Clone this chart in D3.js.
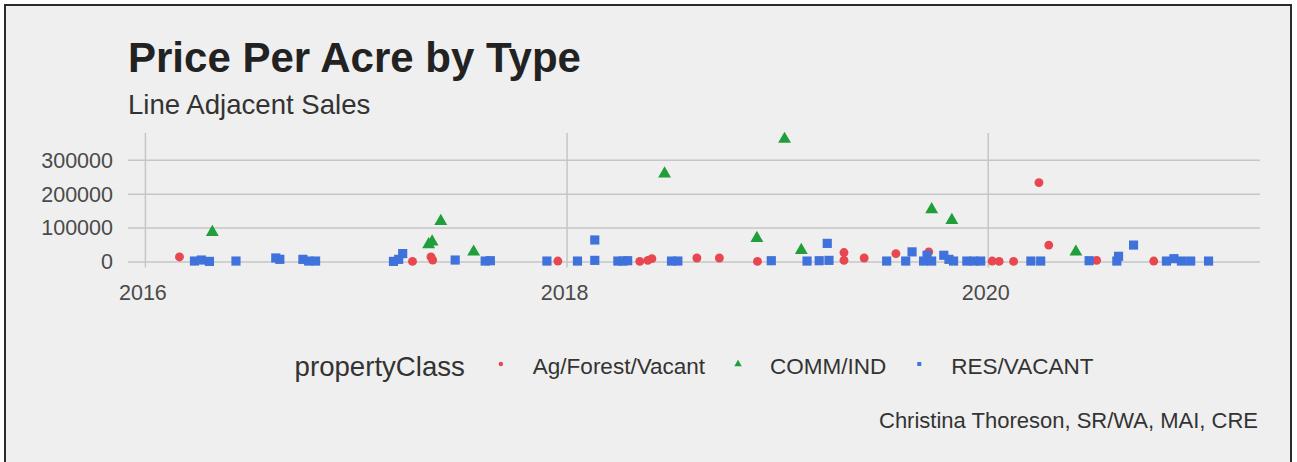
<!DOCTYPE html>
<html>
<head>
<meta charset="utf-8">
<title>Price Per Acre by Type</title>
<style>
  body { margin: 0; background: #fff; }
  text { font-family: "Liberation Sans", Arial, Helvetica, sans-serif; }
</style>
</head>
<body>
<svg width="1297" height="462"></svg>
<script src="https://cdnjs.cloudflare.com/ajax/libs/d3/7.8.5/d3.min.js"></script>
<script>

// categories + colours (ggplot hue palette, a bit darker like the print)
var categories = ["Ag/Forest/Vacant", "COMM/IND", "RES/VACANT"];
var colors = ["#e8474f", "#1f9e3a", "#3f72da"];
var shapes = [d3.symbolCircle, d3.symbolTriangle, d3.symbolSquare];

// [sale date, price per acre]
var agSales = [
  ["2016-02-29", 15000], ["2017-04-08", 2000], ["2017-05-10", 15000],
  ["2017-05-13", 6000], ["2017-12-16", 3000], ["2018-05-07", 2000],
  ["2018-05-21", 5000], ["2018-05-28", 10000], ["2018-08-14", 12000],
  ["2018-09-22", 12000], ["2018-11-27", 2000], ["2019-04-26", 28000],
  ["2019-04-26", 5000], ["2019-05-31", 12000], ["2019-07-25", 25000],
  ["2019-09-20", 30000], ["2020-01-08", 3000], ["2020-01-20", 2000],
  ["2020-02-14", 2000], ["2020-03-29", 234000], ["2020-04-15", 50000],
  ["2020-07-07", 5000], ["2020-10-14", 3000]
];

var commSales = [
  ["2016-04-26", 88000], ["2017-05-06", 52000], ["2017-05-12", 60000],
  ["2017-05-27", 120000], ["2017-07-23", 30000], ["2018-06-19", 260000],
  ["2018-11-26", 70000], ["2019-01-13", 362000], ["2019-02-11", 35000],
  ["2019-09-25", 155000], ["2019-10-30", 123000], ["2020-06-01", 30000]
];

var resSales = [
  ["2016-03-26", 3000], ["2016-04-07", 6000], ["2016-04-21", 2000],
  ["2016-06-06", 3000], ["2016-08-14", 12000], ["2016-08-21", 8000],
  ["2016-09-30", 8000], ["2016-10-10", 3000], ["2016-10-22", 3000],
  ["2017-03-06", 2000], ["2017-03-15", 8000], ["2017-03-22", 25000],
  ["2017-06-21", 6000], ["2017-08-12", 3000], ["2017-08-21", 4000],
  ["2017-11-27", 3000], ["2018-01-19", 3000], ["2018-02-18", 65000],
  ["2018-02-18", 5000], ["2018-03-30", 3000], ["2018-04-08", 3000],
  ["2018-04-16", 4000], ["2018-07-01", 3000], ["2018-07-12", 3000],
  ["2018-12-21", 4000], ["2019-02-21", 3000], ["2019-03-14", 4000],
  ["2019-03-28", 55000], ["2019-03-31", 5000], ["2019-07-09", 3000],
  ["2019-08-11", 3000], ["2019-08-22", 30000], ["2019-09-11", 3000],
  ["2019-09-17", 20000], ["2019-09-25", 3000], ["2019-10-16", 20000],
  ["2019-10-25", 8000], ["2019-11-02", 3000], ["2019-11-25", 3000],
  ["2019-12-07", 3000], ["2019-12-19", 3000], ["2020-03-15", 3000],
  ["2020-04-01", 3000], ["2020-06-24", 4000], ["2020-08-11", 3000],
  ["2020-08-14", 17000], ["2020-09-09", 50000], ["2020-11-05", 3000],
  ["2020-11-18", 10000], ["2020-12-01", 3000], ["2020-12-17", 3000],
  ["2021-01-17", 3000]
];

var yTicks = [0, 100000, 200000, 300000];
var xTickYears = [2016, 2018, 2020];

var parse = d3.timeParse("%Y-%m-%d");
var series = [agSales, commSales, resSales];
var points = [];
series.forEach(function(s, i) {
  s.forEach(function(d) {
    points.push({ date: parse(d[0]), value: d[1], cls: i });
  });
});

var svg = d3.select("svg");

// page background + frame
svg.append("rect").attr("x", 5).attr("y", 5).attr("width", 1286).attr("height", 460)
  .attr("fill", "#efefef").attr("stroke", "#2b2b2b").attr("stroke-width", 2);

var panel = { left: 128, right: 1260, top: 133, bottom: 267.5 };

// ggplot style 5% expansion on both axes
var xExt = d3.extent(points, function(d) { return d.date; });
var xPad = (xExt[1] - xExt[0]) * 0.05;
var x = d3.scaleTime()
  .domain([new Date(+xExt[0] - xPad), new Date(+xExt[1] + xPad)])
  .range([panel.left, panel.right]);

var yExt = d3.extent(points, function(d) { return d.value; });
var yPad = (yExt[1] - yExt[0]) * 0.05;
var y = d3.scaleLinear()
  .domain([yExt[0] - yPad, yExt[1] + yPad])
  .range([panel.bottom, panel.top]);

var xTicks = xTickYears.map(function(yr) { return new Date(yr, 0, 1); });

// grid
var grid = svg.append("g").attr("stroke", "#c6c6c6").attr("stroke-width", 1.5);
grid.selectAll("line.h").data(yTicks).enter().append("line")
  .attr("x1", panel.left).attr("x2", panel.right)
  .attr("y1", function(d) { return y(d); }).attr("y2", function(d) { return y(d); });
grid.selectAll("line.v").data(xTicks).enter().append("line")
  .attr("y1", panel.top).attr("y2", panel.bottom)
  .attr("x1", function(d) { return x(d); }).attr("x2", function(d) { return x(d); });

// axes (text only, like theme_fivethirtyeight)
var yAxis = svg.append("g")
  .attr("transform", "translate(" + panel.left + ",0)")
  .call(d3.axisLeft(y).tickValues(yTicks).tickFormat(d3.format("d")).tickSize(0).tickPadding(15));
var xAxis = svg.append("g")
  .attr("transform", "translate(0," + panel.bottom + ")")
  .call(d3.axisBottom(x).tickValues(xTicks).tickFormat(d3.timeFormat("%Y")).tickSize(0).tickPadding(17));
[yAxis, xAxis].forEach(function(a) {
  a.select(".domain").remove();
  a.selectAll("text").attr("font-size", 21.5).attr("fill", "#4a4a4a")
    .attr("font-family", "'Liberation Sans', Arial, sans-serif");
});
xAxis.selectAll(".tick text").attr("dx", -3);

// points
var sym = d3.symbol();
var symSize = [62, 72, 84];
svg.append("g").selectAll("path").data(points).enter().append("path")
  .attr("transform", function(d) { return "translate(" + x(d.date) + "," + y(d.value) + ")"; })
  .attr("d", function(d) { return sym.type(shapes[d.cls]).size(symSize[d.cls])(); })
  .attr("fill", function(d) { return colors[d.cls]; });

// titles
svg.append("text").attr("x", 128).attr("y", 72)
  .attr("font-size", 42).attr("font-weight", "bold").attr("fill", "#222")
  .text("Price Per Acre by Type");
svg.append("text").attr("x", 128).attr("y", 114)
  .attr("font-size", 27.6).attr("fill", "#333")
  .text("Line Adjacent Sales");

// legend, centred on the panel
var legend = svg.append("g");
var ly = 366;
var lt = legend.append("text").attr("y", ly).attr("dy", "0.35em")
  .attr("font-size", 27.6).attr("fill", "#333").text("propertyClass");
var cursor = lt.node().getComputedTextLength() + 36;
categories.forEach(function(c, i) {
  legend.append("path")
    .attr("transform", "translate(" + cursor + "," + (ly - 2) + ")")
    .attr("d", sym.type(shapes[i]).size(i == 1 ? 24 : 16)())
    .attr("fill", colors[i]);
  var t = legend.append("text").attr("x", cursor + 32).attr("y", ly).attr("dy", "0.35em")
    .attr("font-size", 22.5).attr("fill", "#333").text(c);
  cursor += 32 + t.node().getComputedTextLength() + 33;
});
var lw = cursor - 33;
legend.attr("transform", "translate(" + ((panel.left + panel.right) / 2 - lw / 2) + ",0)");

// caption
svg.append("text").attr("x", 1258).attr("y", 420).attr("dy", "0.35em")
  .attr("text-anchor", "end").attr("font-size", 22).attr("fill", "#333")
  .text("Christina Thoreson, SR/WA, MAI, CRE");

</script>
</body>
</html>
